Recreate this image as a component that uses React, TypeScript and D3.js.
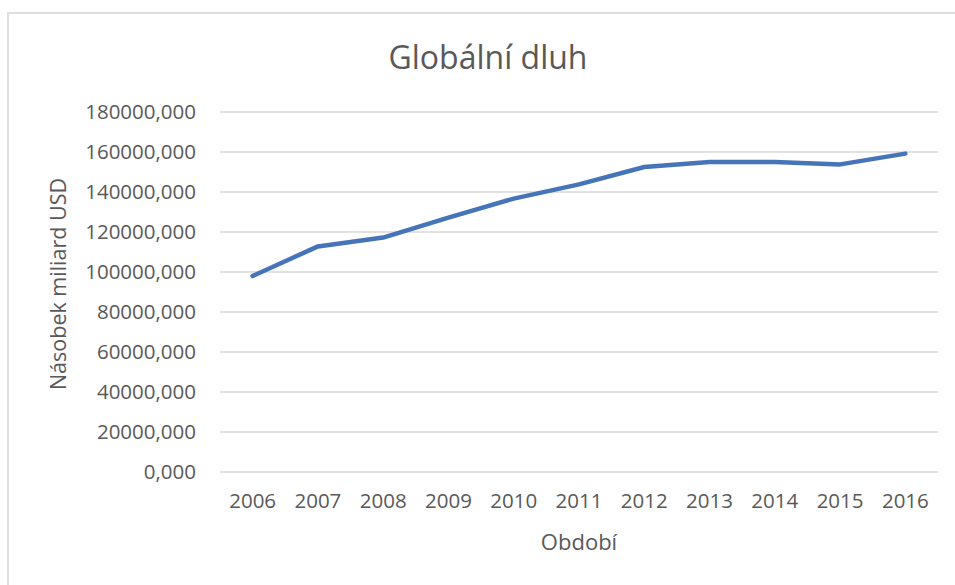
import React from "react";
import * as d3 from "d3";

// Global debt, multiples of billion USD, by year
const years = ["2006", "2007", "2008", "2009", "2010", "2011", "2012", "2013", "2014", "2015", "2016"];
const debt = [98000, 112800, 117200, 127200, 136700, 143800, 152500, 155000, 155000, 153800, 159200];
const yTicks = [0, 20000, 40000, 60000, 80000, 100000, 120000, 140000, 160000, 180000];

const title = "Globální dluh";
const xTitle = "Období";
const yTitle = "Násobek miliard USD";

const W = 955;
const H = 585;
const plot = { left: 220, right: 938, top: 112, bottom: 472 };
const font = "'Open Sans', sans-serif";
const textColor = "#595959";

export default function App() {
  const x = d3
    .scaleBand<string>()
    .domain(years)
    .range([plot.left, plot.right])
    .paddingInner(0)
    .paddingOuter(0);
  const y = d3.scaleLinear().domain([0, 180000]).range([plot.bottom, plot.top]);

  const line = d3
    .line<number>()
    .x((_, i) => (x(years[i]) as number) + x.bandwidth() / 2)
    .y((d) => y(d));

  const fmt = (v: number) => d3.format(".3f")(v).replace(".", ",");

  return (
    <svg
      width={W}
      height={H}
      style={{ position: "absolute", left: 0, top: 0, background: "#fff" }}
      fontFamily={font}
    >
      <rect x={0} y={0} width={W} height={H} fill="#fff" />
      {/* chart frame */}
      <path d={`M8,${H} V13 H${W}`} fill="none" stroke="#dedede" strokeWidth={2} />

      <text x={488} y={69} textAnchor="middle" fontSize={32} fill={textColor}>
        {title}
      </text>

      {/* gridlines and value labels */}
      {yTicks.map((t) => (
        <g key={t}>
          <line
            x1={plot.left}
            x2={plot.right}
            y1={y(t)}
            y2={y(t)}
            stroke="#d9d9d9"
            strokeWidth={1.5}
          />
          <text
            x={196}
            y={y(t) + 7.3}
            textAnchor="end"
            fontSize={20.5}
            fill={textColor}
          >
            {fmt(t)}
          </text>
        </g>
      ))}

      {/* category labels */}
      {years.map((yr) => (
        <text
          key={yr}
          x={(x(yr) as number) + x.bandwidth() / 2}
          y={508}
          textAnchor="middle"
          fontSize={20.5}
          fill={textColor}
        >
          {yr}
        </text>
      ))}

      <text x={579} y={550} textAnchor="middle" fontSize={22} fill={textColor}>
        {xTitle}
      </text>
      <text
        transform={`translate(66,284) rotate(-90)`}
        textAnchor="middle"
        fontSize={21.5}
        fill={textColor}
      >
        {yTitle}
      </text>

      <path
        d={line(debt) ?? ""}
        fill="none"
        stroke="#4674b8"
        strokeWidth={4.5}
        strokeLinejoin="round"
        strokeLinecap="round"
      />
    </svg>
  );
}
